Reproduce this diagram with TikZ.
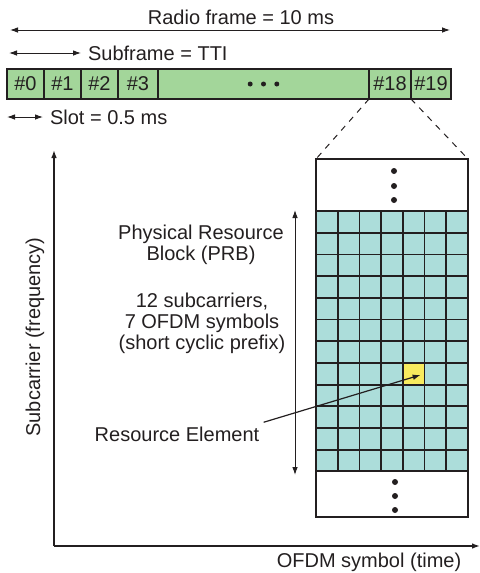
\documentclass[tikz,border=0pt]{standalone}
\usepackage{fontspec}
\setmainfont{Liberation Sans}
\usetikzlibrary{arrows.meta,positioning,calc}
\definecolor{ink}{HTML}{231F20}
\definecolor{slotgreen}{HTML}{A3D69A}
\definecolor{cellteal}{HTML}{ACDDDA}
\definecolor{reyellow}{HTML}{F8EB5E}

\begin{document}
\begin{tikzpicture}[x=0.5pt, y=-0.5pt, font=\fontsize{10}{10.5}\selectfont,
  every node/.style={text=ink},
  slot/.style={draw=ink, fill=slotgreen, line width=0.8pt, minimum height=15pt, inner sep=0pt, outer sep=0pt},
  span/.style={ink, line width=0.5pt, {Latex[length=4pt,width=2.8pt]}-{Latex[length=4pt,width=2.8pt]}},
  axis/.style={ink, line width=0.7pt, -{Latex[length=4pt,width=2.8pt]}},
  gridline/.style={ink, line width=0.9pt},
  zoomline/.style={ink, line width=0.5pt, dash pattern=on 3pt off 3pt}]

\useasboundingbox (0,0) rectangle (480,573);

% radio frame and its slots
\node[slot, minimum width=18.5pt, anchor=north west] (s0) at (7,69) {\#0};
\node[slot, minimum width=18.5pt, right=0pt of s0] (s1) {\#1};
\node[slot, minimum width=18.5pt, right=0pt of s1] (s2) {\#2};
\node[slot, minimum width=20pt, right=0pt of s2] (s3) {\#3};
\node[slot, minimum width=105.5pt, right=0pt of s3] (smid) {};
\node[slot, minimum width=21pt, right=0pt of smid] (s18) {\#18};
\node[slot, minimum width=20pt, right=0pt of s18] (s19) {\#19};
\foreach \d in {-13.3,0,13.3}
  \fill[ink] ($(smid.center)+(\d,0)$) circle (1.25pt);

\coordinate (rf1) at (10,30);
\coordinate (rf2) at (450,30);
\draw[span] (rf1) -- (rf2);
\node (rflab) at (241,17) {Radio frame = 10 ms};

\coordinate (sf1) at (9,53);
\coordinate (sf2) at (81,53);
\draw[span] (sf1) -- (sf2);
\node[right=0pt of sf2] (sflab) {Subframe = TTI};

\coordinate (sl1) at (7,117);
\coordinate (sl2) at (43,117);
\draw[span] (sl1) -- (sl2);
\node[right=0pt of sl2] (sllab) {Slot = 0.5 ms};

% resource grid of one slot
\node[draw=ink, line width=1pt, minimum width=76pt, minimum height=26pt, anchor=north west, outer sep=0pt] (topbox) at (316,159) {};
\node[draw=ink, line width=1pt, minimum width=76pt, minimum height=22.8pt, anchor=north west, outer sep=0pt] (botbox) at (316,471.4) {};
\foreach \y in {171,186,200} \fill[ink] (394,\y) circle (1.5pt);
\foreach \y in {482,496,510} \fill[ink] (395,\y) circle (1.5pt);

\fill[cellteal] (316,211) rectangle (467.9,471.4);
\node[fill=reyellow, minimum size=10.85pt, inner sep=0pt, outer sep=0pt, anchor=north west] (rescell) at (402.8,362.9) {};
\foreach \i in {1,...,6}
  \draw[gridline] ({316+21.7*\i},211) -- ({316+21.7*\i},471.4);
\foreach \j in {1,...,11}
  \draw[gridline] (316,{211+21.7*\j}) -- (467.9,{211+21.7*\j});
\draw[ink, line width=1pt] (316,211) rectangle (467.9,471.4);

\draw[zoomline] (s18.south west) -- (topbox.north west);
\draw[zoomline] (s18.south east) -- (topbox.north east);

% axes
\coordinate (origin) at (54,546);
\coordinate (ftop) at (54,150);
\coordinate (tend) at (480,546);
\draw[axis] (origin) -- (ftop);
\draw[axis] (origin) -- (tend);
\node[rotate=90] (flab) at (35,337) {Subcarrier (frequency)};
\node (tlab) at (369,562) {OFDM symbol (time)};

% PRB
\coordinate (prbtop) at (295,210);
\coordinate (prbbot) at (295,475);
\draw[span] (prbtop) -- (prbbot);
\node[align=center] (prb) at (201,245) {Physical Resource\\Block (PRB)};
\node[align=center] (prbinfo) at (202,323) {12 subcarriers,\\7 OFDM symbols\\(short cyclic prefix)};
\node[inner sep=2pt] (re) at (177,434) {Resource Element};
\draw[ink, line width=0.6pt, -{Latex[length=4pt,width=2.8pt]}, shorten >=2pt] (re.north east) -- (rescell.east);

\end{tikzpicture}
\end{document}
